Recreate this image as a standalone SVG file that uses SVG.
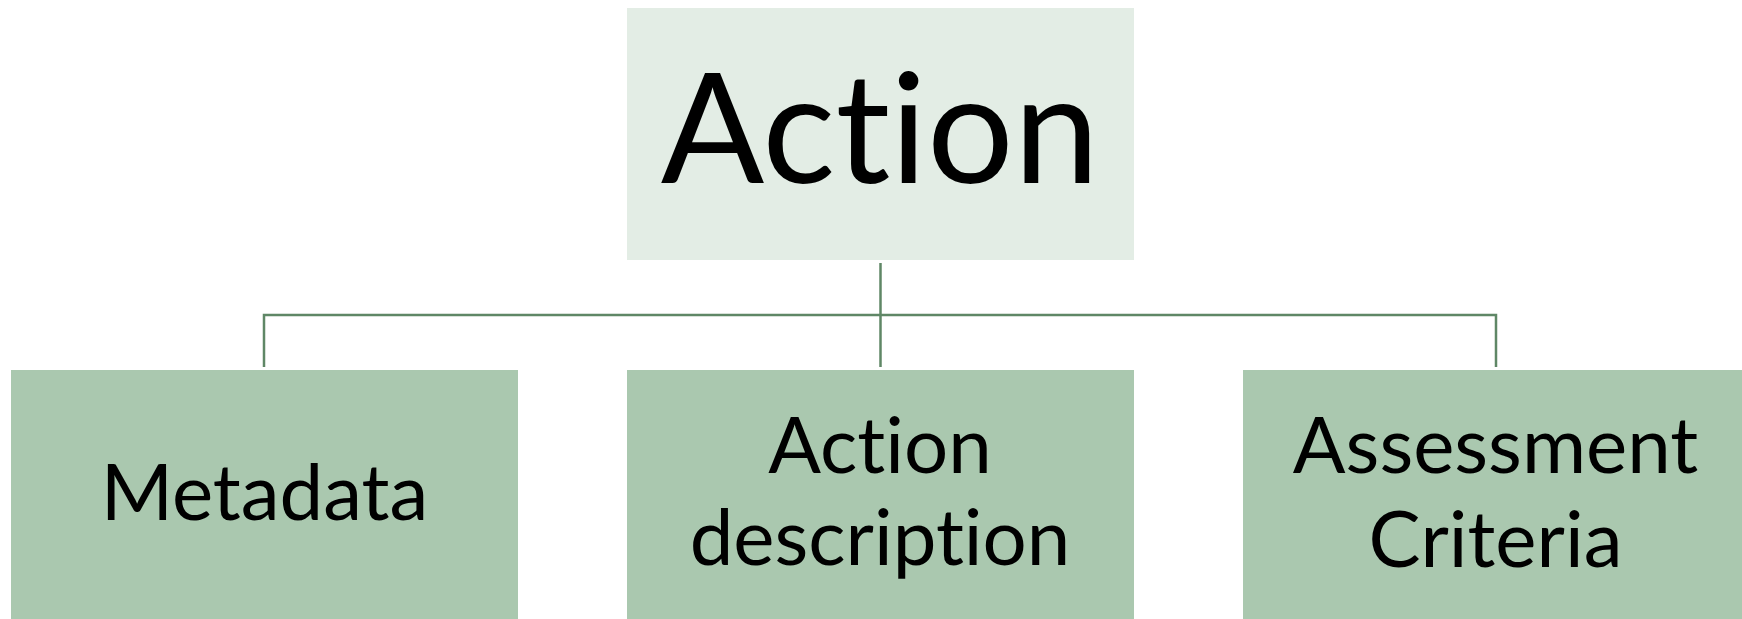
<svg xmlns="http://www.w3.org/2000/svg" width="1742" height="619" viewBox="0 0 1742 619">
<style>
.top{fill:#e3ede5}
.child{fill:#aac8af}
.conn{stroke:#5f8766;stroke-width:2.5;fill:none}
text{font-family:Lato,"Open Sans","Liberation Sans",sans-serif;fill:#000;text-anchor:middle;font-variant-ligatures:none;font-feature-settings:"liga" 0,"clig" 0}
.big{font-size:153px}
.lbl{font-size:78px}
</style>
<rect width="1742" height="619" fill="#fff"/>
<g id="connectors">
<path class="conn" d="M880.5 263 V367"/>
<path class="conn" d="M264 367 V315 H1496 V367"/>
</g>
<g id="node-action">
<rect class="top" x="627" y="8" width="507" height="252"/>
<text class="big" x="880" y="183">Action</text>
</g>
<g id="node-metadata">
<rect class="child" x="11" y="370" width="507" height="249"/>
<text class="lbl" x="264.5" y="520">Metadata</text>
</g>
<g id="node-action-description">
<rect class="child" x="627" y="370" width="507" height="249"/>
<text class="lbl" x="880" y="473">Action</text>
<text class="lbl" x="880" y="565">description</text>
</g>
<g id="node-assessment-criteria">
<rect class="child" x="1243" y="370" width="507" height="249"/>
<text class="lbl" x="1495.5" y="473">Assessment</text>
<text class="lbl" x="1495.5" y="567">Criteria</text>
</g>
</svg>
